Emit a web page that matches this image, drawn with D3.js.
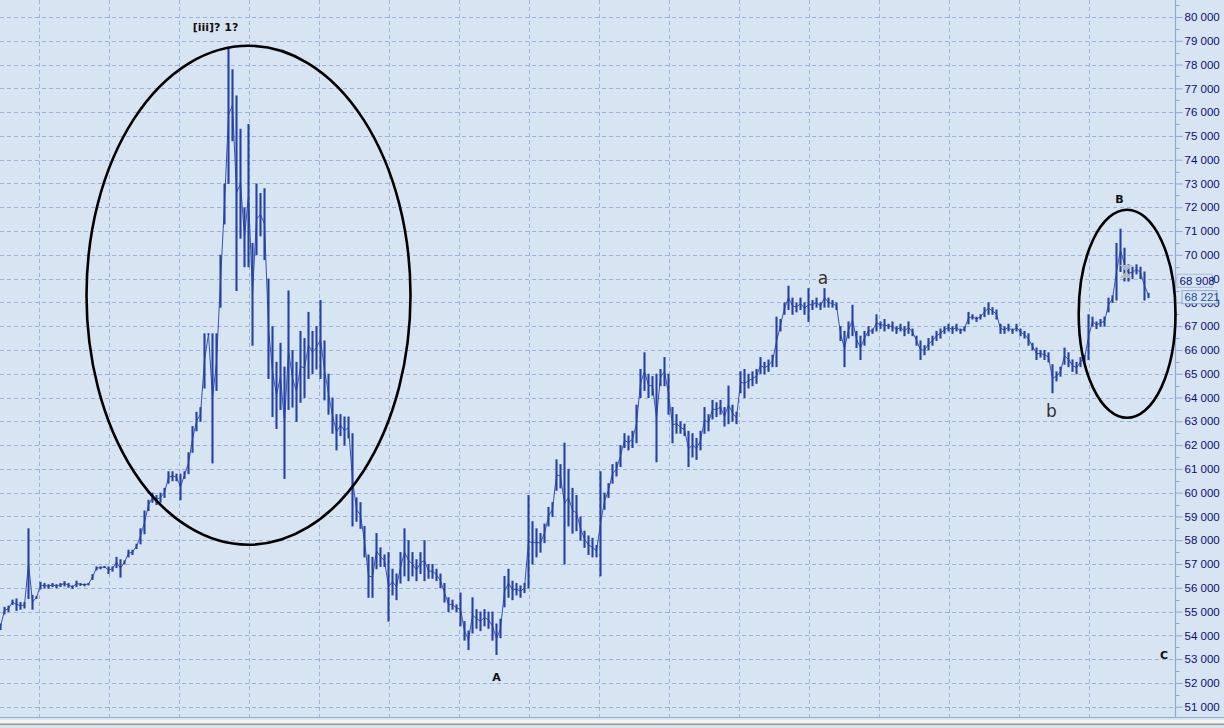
<!DOCTYPE html>
<html><head><meta charset="utf-8">
<script src="https://cdn.jsdelivr.net/npm/d3@7"></script>
<style>body{margin:0;background:#d7e4f2;}svg{display:block}</style>
</head><body><svg id="c" width="1224" height="728"></svg>
<script>
// bar highs / lows in thousands
const highK = [
54.5,55.2,55.25,55.5,55.55,55.4,55.4,58.5,55.7,55.65,
56.25,56.2,56.15,56.2,56.15,56.2,56.28,56.2,56.1,56.3,
56.2,56.18,56.2,56.57,56.9,56.9,56.92,56.9,56.9,57.3,
57.2,57.15,57.6,57.6,57.85,58.5,59.25,59.7,60.0,59.9,
60.0,60.2,60.9,60.9,60.8,60.8,60.9,61.7,62.8,63.4,
63.6,66.7,66.7,66.7,66.7,70.0,73.0,78.75,77.8,76.7,
75.3,72.0,75.5,70.5,73.0,72.6,72.8,69.0,67.0,65.5,
66.3,65.3,68.5,66.0,65.5,66.8,66.5,67.6,66.8,67.0,
68.1,66.4,65.0,64.0,63.3,63.3,63.2,63.2,62.5,59.8,
59.6,58.6,57.4,57.3,58.3,57.7,57.4,57.5,56.8,56.6,
57.5,58.5,58.0,57.5,57.2,57.5,58.0,57.0,57.0,56.8,
56.6,56.2,55.6,55.5,55.3,55.8,54.6,54.2,55.6,55.1,
55.0,55.1,55.0,55.0,54.5,54.7,56.5,56.8,56.3,56.2,
56.1,56.2,59.9,58.8,58.5,58.3,58.7,59.4,59.6,61.4,
61.2,62.1,61.0,60.2,59.9,59.0,58.4,58.2,58.1,57.8,
60.9,60.0,60.4,61.2,61.3,62.0,62.5,62.4,62.6,63.7,
65.2,65.9,65.0,64.9,65.0,65.2,65.7,65.0,63.6,63.3,
63.0,62.9,62.6,62.5,62.3,62.6,63.6,63.3,63.9,63.8,
63.9,63.6,64.5,63.7,63.4,65.1,65.2,65.0,65.1,65.2,
65.7,65.5,65.6,65.8,67.4,67.3,68.0,68.7,68.2,68.0,
68.2,68.0,68.6,68.1,68.2,68.0,68.6,68.2,68.1,68.0,
67.0,66.8,67.2,67.9,66.8,66.6,66.8,67.0,66.9,67.5,
67.2,67.3,67.1,67.2,67.0,67.1,67.0,67.2,66.9,66.6,
66.4,66.2,66.5,66.6,66.8,66.9,67.0,67.1,67.0,67.1,
66.9,67.0,67.6,67.5,67.4,67.5,67.8,68.0,67.8,67.7,
67.1,67.0,67.1,66.9,67.1,66.9,66.8,66.7,66.3,66.1,
66.0,66.0,65.9,65.4,65.1,65.3,66.1,65.9,65.6,65.5,
65.7,65.8,67.5,67.4,67.2,67.3,67.4,68.2,68.3,70.5,
71.1,70.3,69.6,69.5,69.6,69.5,69.3,68.4];
const lowK = [
54.25,54.9,55.0,55.3,55.05,55.1,55.15,55.55,55.1,55.55,
55.95,56.0,55.98,56.05,56.0,56.05,56.08,56.02,55.97,56.05,
56.1,56.08,56.12,56.35,56.75,56.8,56.85,56.6,56.7,56.85,
56.45,57.0,57.3,57.4,57.65,57.85,58.27,59.25,59.6,59.5,
59.6,59.8,60.4,60.5,60.5,59.7,60.6,60.8,61.7,62.6,
63.0,64.4,66.65,61.25,64.3,67.8,71.3,73.0,74.8,68.5,
70.7,69.5,69.5,66.2,70.0,70.8,69.8,64.8,63.2,62.7,
63.5,60.6,63.5,63.6,63.0,63.8,64.0,64.8,65.0,65.2,
64.8,63.9,63.3,62.5,61.8,62.4,62.0,62.3,58.6,58.8,
58.5,57.3,55.6,55.6,56.8,56.9,56.9,54.6,55.7,55.5,
56.2,56.5,56.3,56.5,56.3,56.6,56.3,56.4,56.4,56.3,
56.0,55.4,55.0,55.1,55.0,54.4,53.8,53.4,54.1,54.3,
54.2,54.4,54.3,53.8,53.2,53.9,55.2,55.6,55.5,55.7,
55.6,55.8,56.0,57.0,57.3,57.5,57.9,58.6,59.0,60.1,
60.2,57.0,58.6,58.3,58.4,58.0,57.7,57.4,57.3,57.3,
56.5,59.3,59.8,60.4,60.7,61.1,61.9,61.8,61.9,62.1,
64.0,64.3,64.0,64.1,61.3,64.5,64.5,63.3,62.1,62.5,
62.5,62.4,61.1,61.5,61.4,61.8,62.5,62.6,63.1,63.2,
63.3,62.8,62.9,63.0,62.9,64.2,64.0,64.4,64.5,64.6,
65.0,65.0,65.1,65.3,65.3,66.8,67.5,67.7,67.5,67.6,
67.7,67.5,67.2,67.7,67.8,67.7,67.8,67.8,67.8,67.7,
66.4,65.3,66.5,66.6,66.1,65.6,66.2,66.6,66.7,66.8,
66.9,66.8,66.9,66.8,66.7,66.8,66.6,66.7,66.6,66.2,
65.6,65.8,66.0,66.2,66.4,66.5,66.7,66.8,66.7,66.8,
66.7,66.8,67.1,67.3,67.2,67.3,67.4,67.5,67.5,67.3,
66.7,66.7,66.8,66.7,66.8,66.6,66.5,66.2,66.0,65.6,
65.7,65.6,65.5,64.2,64.7,64.9,65.4,65.3,65.1,65.0,
65.3,65.5,65.6,67.0,66.9,67.0,67.0,67.6,68.0,68.1,
69.3,68.9,68.9,69.0,69.2,69.0,68.1,68.2];
const yTickValues = d3.range(51000, 80001, 1000);
const yMinorValues = d3.range(50500, 81000, 1000);
const timeGridIdx = [9.5,27,44.5,62,79.5,97,114.5,132,149.5,167,184.5,202,219.5,237,254.5,272];
const waveLabels = [
  {text:"[iii]? 1?", idx:53.75, price:79420, bold:true},
  {text:"A", idx:124, price:52080, bold:true},
  {text:"a", idx:205.6, price:68773, bold:false},
  {text:"b", idx:262.75, price:63180, bold:false},
  {text:"B", idx:279.75, price:72180, bold:true},
  {text:"C", idx:290.9, price:53004, bold:true}
];
const ellipses = [
  {idx:62, price:68300, rIdx:40.5, rPrice:10490},
  {idx:281.65, price:67520, rIdx:12.1, rPrice:4373}
];
const priceTags = [
  {value:68908, label:"68 908", color:"#10107a", border:"#a9bcd9", dx:1},
  {value:68221, label:"68 221", color:"#2a4ea0", border:"#8ea8cf", dx:6}
];
const marker = {idx:281.4, price:69300};

const svg = d3.select("#c");
const W = 1224, H = 728, axisX = 1175.5, plotBottom = 717;
const x = d3.scaleLinear().domain([0, highK.length - 1]).range([0.5, 1148.5]);
const y = d3.scaleLinear().domain([51000, 80000]).range([706.7, 17]);
const gridColor = "#9cb3d6";

svg.append("rect").attr("width", W).attr("height", H).attr("fill", "#d7e4f2");

// grid
const g = svg.append("g");
g.selectAll(".hg").data(yTickValues).join("line")
  .attr("x1", 0).attr("x2", axisX)
  .attr("y1", d => Math.round(y(d)) + 0.5).attr("y2", d => Math.round(y(d)) + 0.5)
  .attr("stroke", gridColor).attr("stroke-width", 1).attr("stroke-dasharray", "4,3");
g.selectAll(".vg").data(timeGridIdx).join("line")
  .attr("x1", d => Math.round(x(d)) + 0.5).attr("x2", d => Math.round(x(d)) + 0.5)
  .attr("y1", 0).attr("y2", plotBottom)
  .attr("stroke", gridColor).attr("stroke-width", 1).attr("stroke-dasharray", "4,3");

// axis
const axis = d3.axisRight(y).tickValues(yTickValues).tickSize(7).tickPadding(2)
  .tickFormat(d => d3.format(",")(d).replace(",", " "));
const ag = svg.append("g").attr("transform", `translate(${axisX},0)`).call(axis);
ag.select(".domain").remove();
ag.selectAll("line").attr("stroke", "#8fa9d0");
ag.selectAll("text").attr("fill", "#0c0c78").attr("font-family", "Liberation Sans, Arial, sans-serif").attr("font-size", 11.5);
svg.append("g").selectAll("line").data(yMinorValues.filter(d => y(d) > 0 && y(d) < plotBottom)).join("line")
  .attr("x1", axisX).attr("x2", axisX + 4)
  .attr("y1", d => Math.round(y(d)) + 0.5).attr("y2", d => Math.round(y(d)) + 0.5)
  .attr("stroke", "#8fa9d0");
svg.append("line").attr("x1", axisX).attr("x2", axisX).attr("y1", 0).attr("y2", plotBottom)
  .attr("stroke", "#8fa9d0").attr("stroke-width", 1.2);
svg.append("line").attr("x1", 0).attr("x2", W).attr("y1", plotBottom + 0.5).attr("y2", plotBottom + 0.5)
  .attr("stroke", "#8fa9d0").attr("stroke-width", 1);
svg.append("rect").attr("x", 0).attr("y", 720).attr("width", W).attr("height", 3.5).attr("fill", "#f6f3e8");
svg.append("rect").attr("x", 0).attr("y", 723.5).attr("width", W).attr("height", 1.5).attr("fill", "#9b988a");

// price series
const idx = d3.range(highK.length);
const barColor = "#2541a6";
const mid = d3.line().x(i => x(i)).y(i => y((highK[i] + lowK[i]) * 500));
svg.append("path").datum(idx).attr("d", mid).attr("fill", "none")
  .attr("stroke", barColor).attr("stroke-width", 0.9);
svg.append("g").selectAll("line").data(idx).join("line")
  .attr("x1", i => x(i)).attr("x2", i => x(i))
  .attr("y1", i => y(highK[i] * 1000)).attr("y2", i => y(lowK[i] * 1000) + 0.5)
  .attr("stroke", barColor).attr("stroke-width", 2.1);

// marker (hourglass)
const mx = x(marker.idx), my = y(marker.price);
svg.append("path")
  .attr("d", `M${mx-6.5},${my-6.5}L${mx+6.5},${my-6.5}L${mx},${my}L${mx+6.5},${my+6.5}L${mx-6.5},${my+6.5}L${mx},${my}Z`)
  .attr("fill", "#bcbcbc").attr("opacity", 0.95);

// ellipses
svg.append("g").selectAll("ellipse").data(ellipses).join("ellipse")
  .attr("cx", d => x(d.idx)).attr("cy", d => y(d.price))
  .attr("rx", d => x(d.idx + d.rIdx) - x(d.idx))
  .attr("ry", d => y(d.price - d.rPrice) - y(d.price))
  .attr("fill", "none").attr("stroke", "#000").attr("stroke-width", 2.6);

// wave labels
svg.append("g").selectAll("text").data(waveLabels).join("text")
  .attr("x", d => x(d.idx)).attr("y", d => y(d.price))
  .attr("text-anchor", "middle")
  .attr("font-family", "DejaVu Sans, Verdana, sans-serif")
  .attr("font-weight", d => d.bold ? "bold" : "normal")
  .attr("font-size", d => d.bold ? 11 : 17)
  .attr("fill", d => d.bold ? "#111" : "#333")
  .text(d => d.text);

// price tags
const tg = svg.append("g").selectAll("g").data(priceTags).join("g")
  .attr("transform", d => `translate(${axisX + d.dx},${y(d.value)})`);
tg.append("rect").attr("x", 0.5).attr("y", -6.5).attr("width", 35).attr("height", 13)
  .attr("fill", "#d7e4f2").attr("stroke", d => d.border);
tg.append("text").attr("x", 3).attr("y", 4.2).attr("fill", d => d.color)
  .attr("font-family", "Liberation Sans, Arial, sans-serif").attr("font-size", 11.5)
  .text(d => d.label);
</script></body></html>
